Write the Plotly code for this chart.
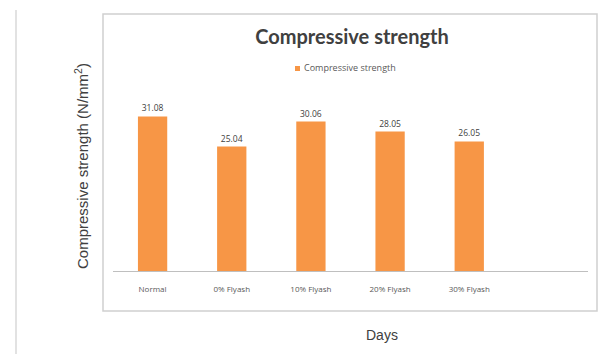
import plotly.graph_objects as go

categories = ["Normal", "0% Flyash", "10% Flyash", "20% Flyash", "30% Flyash"]
strength = [31.08, 25.04, 30.06, 28.05, 26.05]
labels = ["31.08", "25.04", "30.06", "28.05", "26.05"]
series_name = "Compressive strength"

W, H = 602, 354
L, R, T, B = 113, 14, 97, 83
BAR = "#F79646"

fig = go.Figure()
fig.add_trace(go.Bar(
    x=categories, y=strength, name=series_name,
    marker=dict(color=BAR, line=dict(width=0)),
    text=labels, textposition="outside", cliponaxis=False,
    textfont=dict(family="Open Sans, sans-serif", size=8.5, color="#404040"),
    showlegend=False,
))

def py(pix):
    return (H - B - pix) / (H - T - B)

def px(pix):
    return (pix - L) / (W - L - R)

fig.update_layout(
    width=W, height=H,
    margin=dict(l=L, r=R, t=T, b=B),
    paper_bgcolor="white", plot_bgcolor="white",
    bargap=0.63,
    showlegend=False,
    title=dict(text="<b>Compressive strength</b>", x=px(352), xref="paper",
               xanchor="center", y=1 - 37 / H, yanchor="middle",
               font=dict(family="Lato, sans-serif", size=20, color="#404040")),
    xaxis=dict(range=[-0.5, 5.5], showgrid=False, zeroline=False, showline=True,
               linecolor="#bfbfbf", linewidth=1, ticks="", ticklabelstandoff=10,
               tickfont=dict(family="Open Sans, sans-serif", size=8, color="#595959")),
    yaxis=dict(range=[0, 35], visible=False),
    font=dict(family="Open Sans, sans-serif"),
)

# chart box and left rule
fig.add_shape(type="rect", xref="paper", yref="paper",
              x0=px(103), x1=px(597), y0=py(311), y1=py(14),
              line=dict(color="#d0d0d0", width=1.5), layer="below")
fig.add_shape(type="line", xref="paper", yref="paper",
              x0=px(16), x1=px(16), y0=py(354), y1=py(10),
              line=dict(color="#d8d8d8", width=1.5))

# legend (swatch + label)
fig.add_shape(type="rect", xref="paper", yref="paper",
              x0=px(295), x1=px(300), y0=py(71), y1=py(66),
              fillcolor=BAR, line=dict(width=0))
fig.add_annotation(text=series_name, xref="paper", yref="paper",
                   x=px(302), y=py(68), showarrow=False, xanchor="left", yanchor="middle",
                   font=dict(family="Open Sans, sans-serif", size=9, color="#595959"))

fig.add_annotation(text="Compressive strength (N/mm<sup>2</sup>)", textangle=-90,
                   xref="paper", yref="paper", x=px(81), y=py(166),
                   showarrow=False, xanchor="center", yanchor="middle",
                   font=dict(family="Liberation Sans, Arial, sans-serif", size=15, color="#404040"))
fig.add_annotation(text="Days", xref="paper", yref="paper",
                   x=px(382), y=py(335), showarrow=False,
                   xanchor="center", yanchor="middle",
                   font=dict(family="Liberation Sans, Arial, sans-serif", size=14, color="#404040"))

fig.write_html("out.html")
